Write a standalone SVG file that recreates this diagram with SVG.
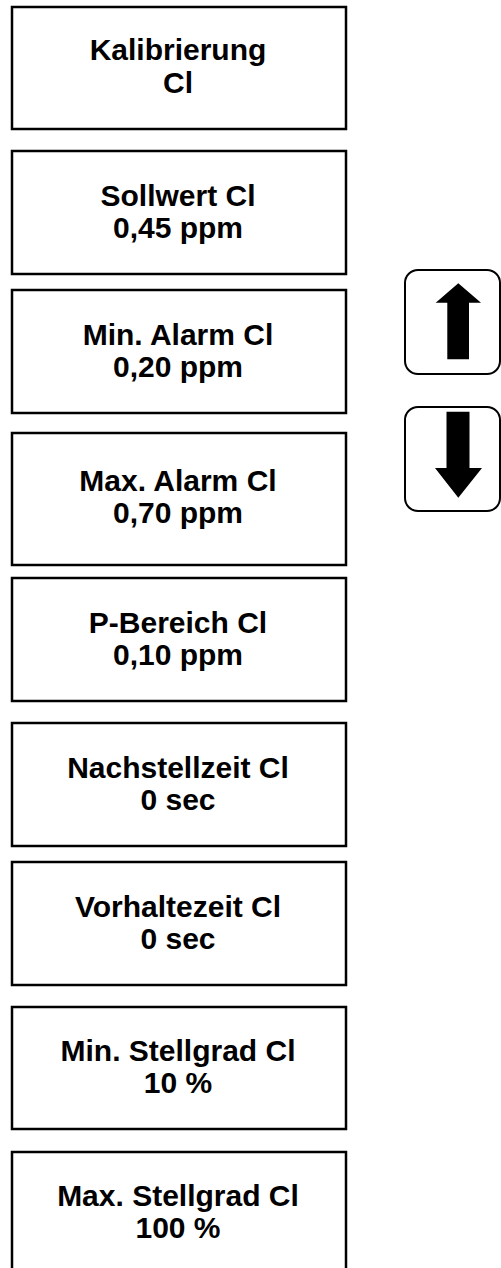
<svg xmlns="http://www.w3.org/2000/svg" width="501" height="1268" viewBox="0 0 501 1268">
<style>
.box{fill:#fff;stroke:#000;stroke-width:2.5}
.btn{fill:#fff;stroke:#000;stroke-width:2}
.lbl{font-family:"Liberation Sans",Arial,sans-serif;font-weight:bold;font-size:30px;fill:#000;text-anchor:middle}
.arr{fill:#000}
</style>
<rect width="501" height="1268" fill="#fff"/>
<g id="n1"><rect class="box" x="12" y="7" width="334" height="122"/><text class="lbl" x="178" y="60">Kalibrierung</text><text class="lbl" x="178" y="93">Cl</text></g>
<g id="n2"><rect class="box" x="12" y="151" width="334" height="123"/><text class="lbl" x="178" y="206">Sollwert Cl</text><text class="lbl" x="178" y="238">0,45 ppm</text></g>
<g id="n3"><rect class="box" x="12" y="290" width="334" height="123"/><text class="lbl" x="178" y="345">Min. Alarm Cl</text><text class="lbl" x="178" y="377">0,20 ppm</text></g>
<g id="n4"><rect class="box" x="12" y="433" width="334" height="132"/><text class="lbl" x="178" y="491">Max. Alarm Cl</text><text class="lbl" x="178" y="523">0,70 ppm</text></g>
<g id="n5"><rect class="box" x="12" y="578" width="334" height="123"/><text class="lbl" x="178" y="633">P-Bereich Cl</text><text class="lbl" x="178" y="665">0,10 ppm</text></g>
<g id="n6"><rect class="box" x="12" y="723" width="334" height="123"/><text class="lbl" x="178" y="778">Nachstellzeit Cl</text><text class="lbl" x="178" y="810">0 sec</text></g>
<g id="n7"><rect class="box" x="12" y="862" width="334" height="123"/><text class="lbl" x="178" y="917">Vorhaltezeit Cl</text><text class="lbl" x="178" y="949">0 sec</text></g>
<g id="n8"><rect class="box" x="12" y="1007" width="334" height="122"/><text class="lbl" x="178" y="1061">Min. Stellgrad Cl</text><text class="lbl" x="178" y="1093">10 %</text></g>
<g id="n9"><rect class="box" x="12" y="1152" width="334" height="123"/><text class="lbl" x="178" y="1206">Max. Stellgrad Cl</text><text class="lbl" x="178" y="1238">100 %</text></g>
<g id="btn-up"><rect class="btn" x="405" y="270" width="95" height="104" rx="13"/><path class="arr" d="M458.3,283.3 L481,302.7 L469,302.7 L469,359.3 L447.3,359.3 L447.3,302.7 L435.7,302.7 Z"/></g>
<g id="btn-down"><rect class="btn" x="405" y="407" width="95" height="104" rx="13"/><path class="arr" d="M446.5,411.7 L469.5,411.7 L469.5,468 L482,468 L458.3,497.7 L435,468 L446.5,468 Z"/></g>
<g id="connectors"></g>
</svg>
